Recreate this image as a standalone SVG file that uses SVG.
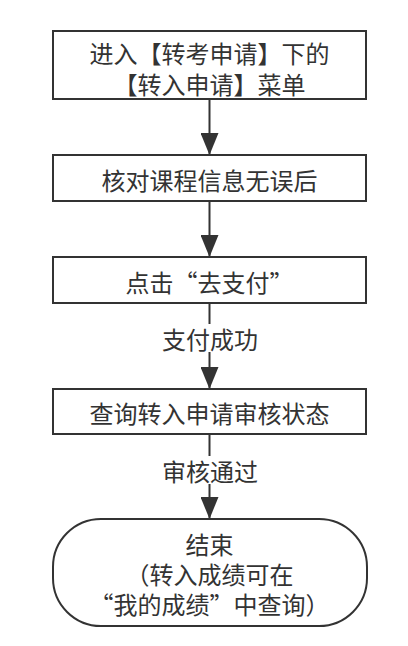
<svg xmlns="http://www.w3.org/2000/svg" width="408" height="646" viewBox="0 0 408 646">
<style>
.n{fill:#fff;stroke:#333;stroke-width:2}
.t{font-family:"Noto Sans CJK SC","Noto Sans",sans-serif;font-size:24px;fill:#333;text-anchor:middle;dominant-baseline:central}
.c{stroke:#333;stroke-width:2;fill:none}
.lb{fill:#fff}
</style>
<defs>
<marker id="ah" viewBox="0 0 22 18" refX="22" refY="9" markerWidth="22" markerHeight="18" markerUnits="userSpaceOnUse" orient="auto">
<path d="M0,0 L22,9 L0,18 Z" fill="#333"/>
</marker>
</defs>
<rect width="408" height="646" fill="#fff"/>
<g id="connectors">
<line class="c" x1="209.5" y1="99" x2="209.5" y2="155" marker-end="url(#ah)"/>
<line class="c" x1="209.5" y1="201" x2="209.5" y2="257" marker-end="url(#ah)"/>
<line class="c" x1="209.5" y1="303" x2="209.5" y2="389" marker-end="url(#ah)"/>
<line class="c" x1="209.5" y1="434" x2="209.5" y2="519" marker-end="url(#ah)"/>
<rect class="lb" x="160" y="324" width="100" height="28"/>
<text class="t" x="210" y="338">支付成功</text>
<rect class="lb" x="160" y="456" width="100" height="28"/>
<text class="t" x="210" y="470">审核通过</text>
</g>
<g id="n1">
<rect class="n" x="53" y="31" width="313" height="68"/>
<text class="t" x="209.5" y="52">进入【转考申请】下的</text>
<text class="t" x="209.5" y="83">【转入申请】菜单</text>
</g>
<g id="n2">
<rect class="n" x="53" y="155" width="313" height="46"/>
<text class="t" x="209.5" y="179">核对课程信息无误后</text>
</g>
<g id="n3">
<rect class="n" x="53" y="257" width="313" height="46"/>
<text class="t" x="209.5" y="281">点击“去支付”</text>
</g>
<g id="n4">
<rect class="n" x="53" y="389" width="313" height="45"/>
<text class="t" x="209.5" y="412">查询转入申请审核状态</text>
</g>
<g id="n5">
<rect class="n" x="53" y="519" width="314" height="107" rx="48" ry="48"/>
<text class="t" x="209.5" y="543">结束</text>
<text class="t" x="209.5" y="573">（转入成绩可在</text>
<text class="t" x="209.5" y="603">“我的成绩”中查询）</text>
</g>
</svg>
